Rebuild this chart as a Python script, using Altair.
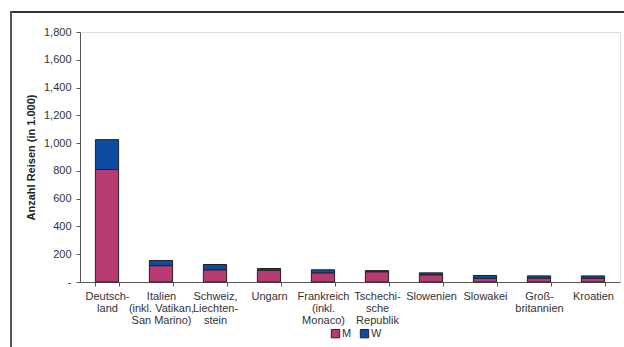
import altair as alt
import pandas as pd

categories = ["Deutsch-|land", "Italien|(inkl. Vatikan,|San Marino)", "Schweiz,|Liechten-|stein",
              "Ungarn", "Frankreich|(inkl.|Monaco)", "Tschechi-|sche|Republik", "Slowenien",
              "Slowakei", "Groß-|britannien", "Kroatien"]
m_values = [810, 118, 88, 85, 66, 74, 52, 27, 28, 28]
w_values = [215, 37, 38, 12, 22, 8, 14, 20, 16, 16]
series = ["M", "W"]
colors = ["#B83A72", "#0C4DA2"]

rows = []
for c, m, w in zip(categories, m_values, w_values):
    rows.append({"land": c, "serie": "M", "ord": 0, "wert": m})
    rows.append({"land": c, "serie": "W", "ord": 1, "wert": w})
df = pd.DataFrame(rows)

font = "Liberation Sans"

bars = alt.Chart(df).mark_bar(stroke="#222222", strokeWidth=1).encode(
    x=alt.X("land:N", sort=categories, title=None,
            scale=alt.Scale(paddingInner=0.57, paddingOuter=0.285),
            axis=alt.Axis(labelAngle=0, labelExpr="split(datum.label, '|')",
                          tickBand="extent", tickSize=4, tickColor="#555555",
                          domainColor="#555555", labelFont=font, labelFontSize=11,
                          labelColor="#333333", labelPadding=4, labelLineHeight=12,
                          labelBaseline="top")),
    y=alt.Y("wert:Q", stack="zero", title="Anzahl Reisen (in 1.000)",
            scale=alt.Scale(domain=[0, 1800], nice=False),
            axis=alt.Axis(values=list(range(0, 1801, 200)), grid=False,
                          labelExpr="datum.value == 0 ? '-' : format(datum.value, ',')",
                          tickSize=4, tickColor="#555555", domainColor="#555555",
                          labelFont=font, labelFontSize=11, labelColor="#333333",
                          labelPadding=5, titleFont=font, titleFontSize=11,
                          titleFontWeight="bold", titleColor="#222222", titlePadding=7)),
    color=alt.Color("serie:N", scale=alt.Scale(domain=series, range=colors),
                    legend=alt.Legend(title=None, orient="none", direction="horizontal",
                                      legendX=250, legendY=296, symbolType="square",
                                      symbolSize=70, symbolStrokeColor="#222222",
                                      symbolStrokeWidth=1, labelFont=font, labelFontSize=11,
                                      labelColor="#333333", columnPadding=6, labelOffset=1)),
    order=alt.Order("ord:Q"),
)

frame_top = alt.Chart(df).mark_rule(color="#333333", strokeWidth=2).encode(
    x=alt.value(-69), x2=alt.value(544), y=alt.value(-20))
frame_left = alt.Chart(df).mark_rule(color="#555555", strokeWidth=2).encode(
    x=alt.value(-69), y=alt.value(-21), y2=alt.value(320))

chart = alt.layer(bars, frame_top, frame_left).properties(
    width=540, height=250,
    autosize=alt.AutoSizeParams(type="none"),
    padding={"left": 80, "top": 32, "right": 4, "bottom": 65},
).configure_view(stroke=None).configure(background="white")

chart.save("out.html", embed_options={"renderer": "svg", "actions": False})
